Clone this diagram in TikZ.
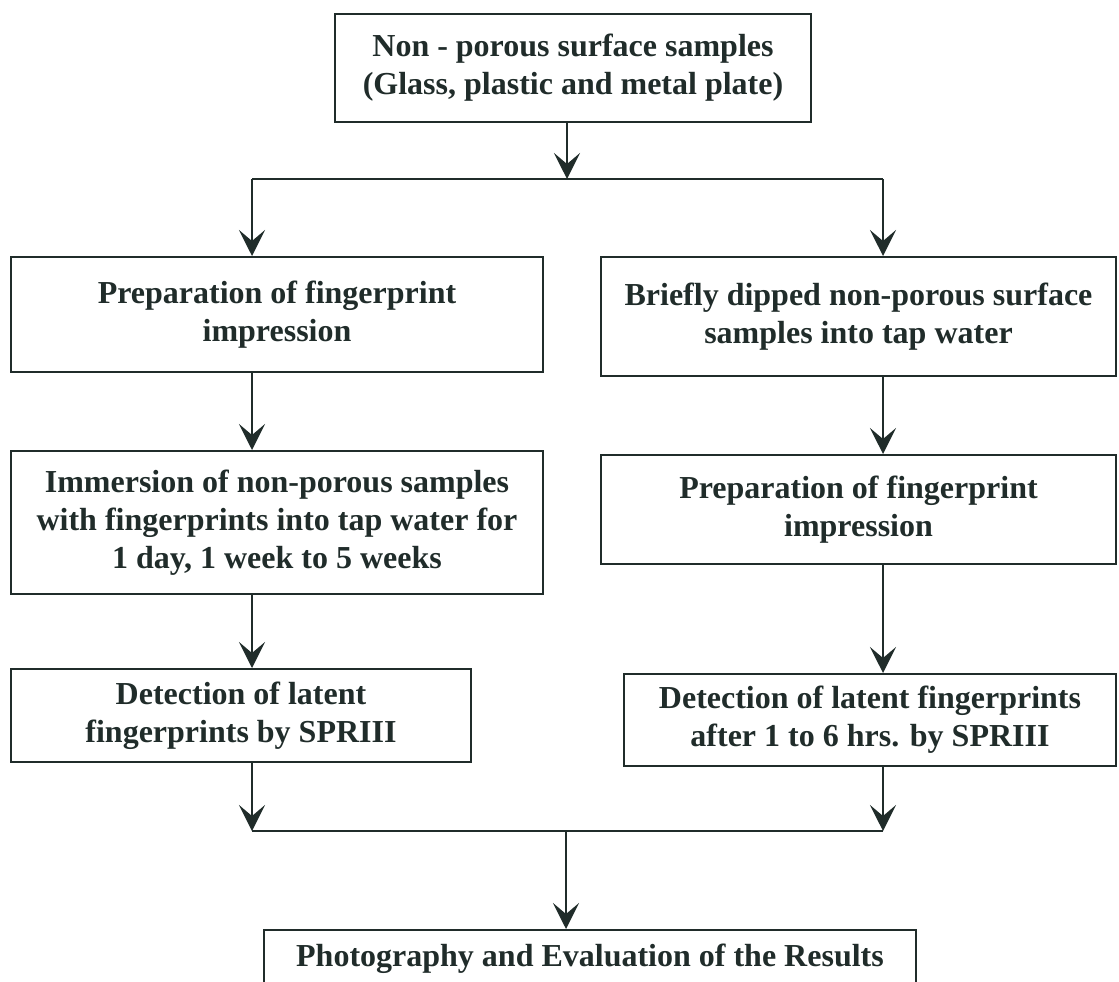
\documentclass[tikz,border=0pt]{standalone}
\usepackage{fontspec}
\setmainfont{Liberation Serif}
\usetikzlibrary{arrows.meta}
\definecolor{ink}{RGB}{32,44,42}
\begin{document}
\begin{tikzpicture}[x=1pt,y=-1pt,
  box/.style={draw=ink, line width=2pt, rectangle, inner sep=0pt, align=center,
    text=ink, font=\fontsize{32}{38}\selectfont\bfseries},
  arr/.style={draw=ink, line width=2pt, -{Stealth[length=26pt,width=26pt,inset=11pt]}},
  ln/.style={draw=ink, line width=2pt}]
\useasboundingbox (0,0) rectangle (1119,982);
\node[box, minimum width=476, minimum height=108] (top) at (573,68)
  {Non - porous surface samples\\(Glass, plastic and metal plate)};
\node[box, minimum width=532, minimum height=115] (l1) at (277,314.5)
  {Preparation of fingerprint\\impression};
\node[box, minimum width=515, minimum height=119] (r1) at (858.5,316.5)
  {Briefly dipped non-porous surface\\samples into tap water};
\node[box, minimum width=532, minimum height=143] (l2) at (277,522.5)
  {Immersion of non-porous samples\\with fingerprints into tap water for\\1 day, 1 week to 5 weeks};
\node[box, minimum width=515, minimum height=109] (r2) at (858.5,509.5)
  {Preparation of fingerprint\\impression};
\node[box, minimum width=460, minimum height=93] (l3) at (241,715.5)
  {Detection of latent\\fingerprints by SPRIII};
\node[box, minimum width=492, minimum height=92] (r3) at (870,720)
  {Detection of latent fingerprints\\after 1 to 6 hrs. by SPRIII};
\node[box, anchor=north, minimum width=652, inner ysep=1pt, text height=35pt, text depth=50pt] (bot) at (590,929)
  {Photography and Evaluation of the Results};
\coordinate (s1) at (567,179);
\coordinate (sl) at (252,179);
\coordinate (sr) at (883,179);
\coordinate (jl) at (252,831);
\coordinate (jr) at (883,831);
\coordinate (jc) at (566,831);
\draw[arr] (top.south -| s1) -- (s1);
\draw[ln] (sl) -- (sr);
\draw[arr] (sl) -- (l1.north -| sl);
\draw[arr] (sr) -- (r1.north -| sr);
\draw[arr] (l1.south -| sl) -- (l2.north -| sl);
\draw[arr] (l2.south -| sl) -- (l3.north -| sl);
\draw[arr] (l3.south -| sl) -- (jl);
\draw[arr] (r1.south -| sr) -- (r2.north -| sr);
\draw[arr] (r2.south -| sr) -- (r3.north -| sr);
\draw[arr] (r3.south -| sr) -- (jr);
\draw[ln] (jl) -- (jr);
\draw[arr] (jc) -- (bot.north -| jc);
\end{tikzpicture}
\end{document}
